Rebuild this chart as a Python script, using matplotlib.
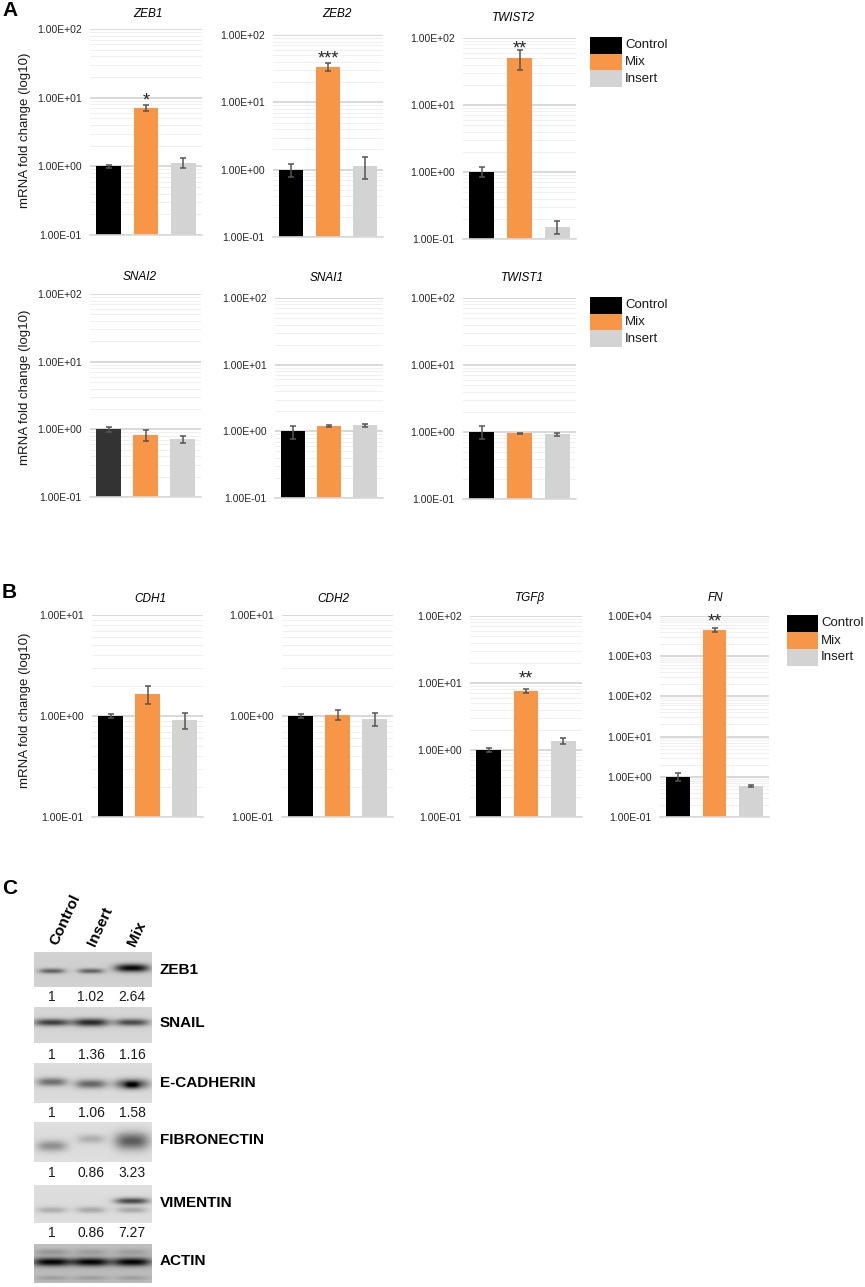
import numpy as np
import matplotlib
matplotlib.use('Agg')
import matplotlib.pyplot as plt
from matplotlib.patches import Rectangle
from matplotlib.ticker import LogLocator, NullFormatter

plt.rcParams['font.family'] = ['Liberation Sans', 'DejaVu Sans']

# ---------------- data ----------------
groups = ['Control', 'Mix', 'Insert']

# Panel A (mRNA fold change)
zeb1 = [1.0, 7.0, 1.13]
zeb1_err = [0.05, 0.7, 0.2]
zeb2 = [1.0, 33.8, 1.13]
zeb2_err = [0.21, 5.0, 0.41]
twist2 = [1.0, 49.8, 0.153]
twist2_err = [0.17, 17.0, 0.035]
snai2 = [1.0, 0.83, 0.72]
snai2_err = [0.1, 0.16, 0.09]
snai1 = [1.0, 1.2, 1.23]
snai1_err = [0.22, 0.05, 0.08]
twist1 = [1.0, 0.955, 0.925]
twist1_err = [0.22, 0.02, 0.05]

# Panel B
cdh1 = [1.0, 1.64, 0.91]
cdh1_err = [0.05, 0.32, 0.16]
cdh2 = [1.0, 1.03, 0.93]
cdh2_err = [0.05, 0.11, 0.13]
tgfb = [1.0, 7.6, 1.36]
tgfb_err = [0.08, 0.45, 0.13]
fn = [1.0, 4490.0, 0.59]
fn_err = [0.23, 600.0, 0.02]

# Panel C (western blot quantification)
lanes = ['Control', 'Insert', 'Mix']
blot_proteins = ['ZEB1', 'SNAIL', 'E-CADHERIN', 'FIBRONECTIN', 'VIMENTIN', 'ACTIN']
q_zeb1 = ['1', '1.02', '2.64']
q_snail = ['1', '1.36', '1.16']
q_ecad = ['1', '1.06', '1.58']
q_fibro = ['1', '0.86', '3.23']
q_vim = ['1', '0.86', '7.27']

# ---------------- styling ----------------
W, H = 865, 1287
colors = ['#000000', '#F79646', '#D3D3D3']
fig = plt.figure(figsize=(W / 100, H / 100), dpi=100)


def add_ax(x0, y0, x1, y1):
    return fig.add_axes([x0 / W, 1 - y1 / H, (x1 - x0) / W, (y1 - y0) / H])


def ftext(x, y, s, **kw):
    return fig.text(x / W, 1 - y / H, s, **kw)


def bar_chart(box, vals, errs, ylim, title, tpos, stars=None, star_y=None, cols=None):
    ax = add_ax(*box)
    lo, hi = ylim
    ax.set_yscale('log')
    cols = cols or colors
    x = np.arange(3)
    ax.bar(x, [v - lo for v in vals], bottom=lo, width=0.66, color=cols, zorder=2)
    ax.errorbar(x, vals, yerr=errs, fmt='none', ecolor='#555555', elinewidth=1.1,
                capsize=2, capthick=1.1, zorder=3)
    ax.set_xlim(-0.5, 2.5)
    ax.set_ylim(lo, hi)
    dec = 10.0 ** np.arange(round(np.log10(lo)), round(np.log10(hi)) + 1)
    ax.set_yticks(dec)
    ax.set_yticklabels([f'{d:.2E}' for d in dec], fontsize=7.5, color='#262626')
    ax.yaxis.set_minor_locator(LogLocator(base=10, subs=np.arange(2, 10), numticks=50))
    ax.yaxis.set_minor_formatter(NullFormatter())
    ax.tick_params(axis='y', which='both', length=0, pad=6)
    ax.tick_params(axis='x', length=0, labelbottom=False)
    for s in ['left', 'right', 'top']:
        ax.spines[s].set_visible(False)
    ax.spines['bottom'].set_color('#d9d9d9')
    ax.spines['bottom'].set_linewidth(1.2)
    ax.grid(True, axis='y', which='major', color='#d6d6d6', lw=1.3)
    ax.grid(True, axis='y', which='minor', color='#f0f0f0', lw=0.8)
    ax.set_axisbelow(True)
    ftext(tpos[0], tpos[1], title, fontsize=8.5, style='italic', ha='center', va='center')
    if stars:
        ax.annotate(stars, xy=(1, star_y), xytext=(0, -7.4), textcoords='offset points',
                    ha='center', va='baseline', fontsize=13, color='#262626',
                    annotation_clip=False)
    return ax


def legend(x0, y0, pw, ph):
    for i, (g, c) in enumerate(zip(groups, colors)):
        fig.add_artist(Rectangle((x0 / W, 1 - (y0 + (i + 1) * ph) / H), pw / W, ph / H,
                                 transform=fig.transFigure, color=c, lw=0))
        ftext(x0 + pw + 3, y0 + (i + 0.5) * ph, g, fontsize=9.5, va='center', color='#1a1a1a')


ylab = 'mRNA fold change (log10)'

# Panel A row 1
bar_chart((90, 29, 202, 235), zeb1, zeb1_err, (0.1, 100), 'ZEB1', (148, 14), '*', 11)
bar_chart((273, 35, 383, 237), zeb2, zeb2_err, (0.1, 100), 'ZEB2', (337, 14), '***', 54)
bar_chart((463, 38, 576, 239), twist2, twist2_err, (0.1, 100), 'TWIST2', (513, 18), '**', 85)
legend(590, 37, 32, 16.7)
ftext(25, 130, ylab, rotation=90, fontsize=9.5, ha='center', va='center', color='#1a1a1a')

# Panel A row 2
bar_chart((90, 294, 201, 497), snai2, snai2_err, (0.1, 100), 'SNAI2', (140, 277),
          cols=['#333333', colors[1], colors[2]])
bar_chart((275, 298, 383, 498), snai1, snai1_err, (0.1, 100), 'SNAI1', (327, 278))
bar_chart((463, 298, 576, 499), twist1, twist1_err, (0.1, 100), 'TWIST1', (522, 278))
legend(590, 297, 32, 16.7)
ftext(25, 387, ylab, rotation=90, fontsize=9.5, ha='center', va='center', color='#1a1a1a')

# Panel B
bar_chart((92, 615, 203, 817), cdh1, cdh1_err, (0.1, 10), 'CDH1', (150, 599))
bar_chart((282, 615, 393, 817), cdh2, cdh2_err, (0.1, 10), 'CDH2', (333, 599))
bar_chart((470, 616, 582, 817), tgfb, tgfb_err, (0.1, 100), 'TGF\u03b2', (530, 598), '**', 14)
bar_chart((660, 616, 769, 817), fn, fn_err, (0.1, 1e4), 'FN', (715, 598), '**', 1e4)
legend(787, 615, 31, 17)
ftext(25, 710, ylab, rotation=90, fontsize=9.5, ha='center', va='center', color='#1a1a1a')

# Panel letters
ftext(2, 11, 'A', fontsize=15, fontweight='bold', va='center', ha='left')
ftext(2, 593, 'B', fontsize=15, fontweight='bold', va='center', ha='left')
ftext(2, 889, 'C', fontsize=15, fontweight='bold', va='center', ha='left')

# ---------------- Panel C: western blot ----------------
lane_x = [18, 57, 98]   # lane centres inside a strip (pixels)
SX0, SX1 = 34, 152


def blot(y0, y1, bg, bands):
    h, w = y1 - y0, SX1 - SX0
    yy, xx = np.mgrid[0:h, 0:w] + 0.5
    img = np.full((h, w), bg, dtype=float)
    # slight vertical shading of the membrane
    img -= 0.03 * np.exp(-((yy - h / 2) / (h / 1.5)) ** 2)
    for lane, yc, amp, sy, sx in bands:
        xc = lane_x[lane]
        img -= amp * np.exp(-np.abs((xx - xc) / sx) ** 3) * np.exp(-((yy - yc) / sy) ** 2)
    ax = add_ax(SX0, y0, SX1, y1)
    ax.imshow(np.clip(img, 0, 1), cmap='gray', vmin=0, vmax=1, aspect='auto',
              interpolation='bilinear')
    ax.axis('off')


blot(952, 987, 0.84, [(0, 19, 0.42, 2.6, 13), (1, 19, 0.42, 2.6, 13), (2, 16, 0.78, 4.0, 17)])
blot(1007, 1043, 0.86, [(0, 16, 0.6, 3.4, 18), (1, 16, 0.68, 3.8, 18), (2, 16, 0.55, 3.4, 17)])
blot(1063, 1103, 0.88, [(0, 19, 0.42, 4.2, 15), (1, 21, 0.45, 4.5, 16), (2, 21, 0.55, 5.0, 17),
                        (2, 22, 0.35, 3.5, 7)])
blot(1122, 1162, 0.89, [(0, 24, 0.3, 5.5, 15), (1, 17, 0.18, 4.5, 14), (2, 19, 0.5, 8.5, 17)])
blot(1185, 1223, 0.89, [(0, 25, 0.18, 3.2, 15), (1, 25, 0.2, 3.2, 15), (2, 25, 0.2, 3.2, 15),
                        (2, 16, 0.58, 3.2, 17)])
blot(1244, 1283, 0.76, [(0, 18, 0.72, 4.2, 19), (1, 18, 0.72, 4.2, 19), (2, 18, 0.72, 4.2, 19),
                        (0, 8, 0.15, 3.0, 17), (1, 8, 0.12, 3.0, 17), (2, 8, 0.12, 3.0, 17),
                        (0, 34, 0.12, 2.5, 17), (1, 34, 0.12, 2.5, 17), (2, 34, 0.12, 2.5, 17)])

label_y = [970, 1023, 1083, 1140, 1203, 1261]
for name, y in zip(blot_proteins, label_y):
    ftext(160, y, name, fontsize=11, fontweight='bold', va='center', ha='left')

quant = [q_zeb1, q_snail, q_ecad, q_fibro, q_vim]
quant_y = [997, 1055, 1113, 1173, 1233]
for q, y in zip(quant, quant_y):
    for lx, s in zip(lane_x, q):
        ftext(SX0 + lx, y, s, fontsize=10, ha='center', va='center', color='#1a1a1a')

lane_anchor = [(60, 947), (98, 948), (138, 948)]
for (ax_, ay_), s in zip(lane_anchor, lanes):
    ftext(ax_, ay_, s, fontsize=11, fontweight='bold', rotation=65, rotation_mode='anchor',
          ha='left', va='bottom')

fig.savefig('out.png', dpi=100)
